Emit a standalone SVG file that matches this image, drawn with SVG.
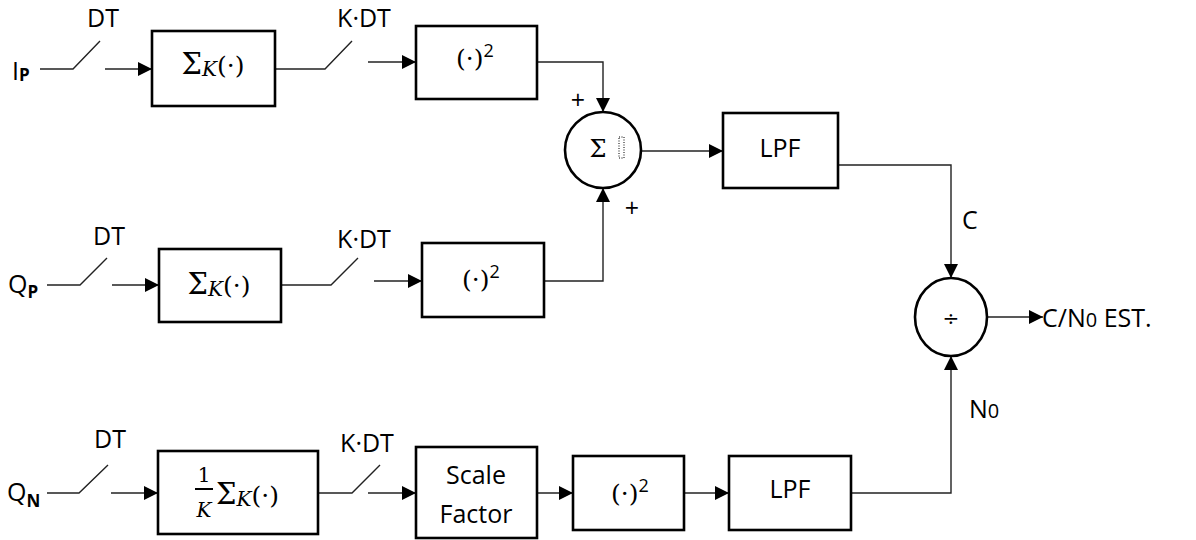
<svg xmlns="http://www.w3.org/2000/svg" width="1196" height="540" viewBox="0 0 1196 540">
<style>
.box{fill:#fff;stroke:#000;stroke-width:2.6}
.ln{fill:none;stroke:#222;stroke-width:1.4}
.lbl{font-family:"Open Sans","Liberation Sans",sans-serif;font-size:25px;fill:#000}
.math{font-family:"DejaVu Serif","Liberation Serif",serif;fill:#000}
.sub{font-family:"Open Sans","Liberation Sans",sans-serif;font-weight:bold;fill:#000}
</style>
<defs>
<marker id="arr" markerUnits="userSpaceOnUse" markerWidth="15" markerHeight="15" refX="14" refY="7" orient="auto">
<path d="M0,0 L14,7 L0,14 z" fill="#000"/>
</marker>
</defs>
<rect width="1196" height="540" fill="#fff"/>

<g id="connectors">
<path class="ln" d="M40,69 H73 L100,41"/>
<path class="ln" d="M105,69 H152" marker-end="url(#arr)"/>
<path class="ln" d="M275,69 H325 L352,41"/>
<path class="ln" d="M368,62 H416" marker-end="url(#arr)"/>
<path class="ln" d="M537,62 H603 V112" marker-end="url(#arr)"/>
<path class="ln" d="M47,285 H80 L107,258"/>
<path class="ln" d="M112,285 H159" marker-end="url(#arr)"/>
<path class="ln" d="M281,285 H331 L358,258"/>
<path class="ln" d="M374,281 H422" marker-end="url(#arr)"/>
<path class="ln" d="M544,281 H603 V188" marker-end="url(#arr)"/>
<path class="ln" d="M641,151 H723" marker-end="url(#arr)"/>
<path class="ln" d="M838,165 H951 V278" marker-end="url(#arr)"/>
<path class="ln" d="M47,493 H79 L108,465"/>
<path class="ln" d="M111,493 H158" marker-end="url(#arr)"/>
<path class="ln" d="M318,493 H352 L380,465"/>
<path class="ln" d="M368,493 H416" marker-end="url(#arr)"/>
<path class="ln" d="M537,493 H573" marker-end="url(#arr)"/>
<path class="ln" d="M684,493 H729" marker-end="url(#arr)"/>
<path class="ln" d="M851,493 H951 V356" marker-end="url(#arr)"/>
<path class="ln" d="M987,317 H1043" marker-end="url(#arr)"/>
</g>

<g id="inputs">
<text class="lbl" x="12" y="80" font-size="27">I<tspan class="sub" font-size="17" dy="1">P</tspan></text>
<text class="lbl" x="8" y="293" font-size="27">Q<tspan class="sub" font-size="17" dy="5">P</tspan></text>
<text class="lbl" x="7" y="501" font-size="27">Q<tspan class="sub" font-size="17" dy="6">N</tspan></text>
</g>

<g id="switch-labels">
<text class="lbl" x="103" y="27" text-anchor="middle">DT</text>
<text class="lbl" x="364" y="27" text-anchor="middle">K·DT</text>
<text class="lbl" x="109" y="245" text-anchor="middle">DT</text>
<text class="lbl" x="364" y="248" text-anchor="middle">K·DT</text>
<text class="lbl" x="110" y="448" text-anchor="middle">DT</text>
<text class="lbl" x="367" y="452" text-anchor="middle">K·DT</text>
</g>

<g id="sumK1">
<rect class="box" x="152" y="31" width="123" height="75"/>
<text class="math" x="213" y="74" text-anchor="middle" font-size="29">Σ<tspan font-style="italic" font-size="20" dy="2">K</tspan><tspan font-size="25" dy="-2">(·)</tspan></text>
</g>
<g id="sq1">
<rect class="box" x="416" y="26" width="121" height="73"/>
<text class="math" x="475" y="67" text-anchor="middle" font-size="25">(·)<tspan font-family="Open Sans, sans-serif" font-size="18" dy="-10">2</tspan></text>
</g>
<g id="sumK2">
<rect class="box" x="159" y="249" width="122" height="73"/>
<text class="math" x="219" y="294" text-anchor="middle" font-size="29">Σ<tspan font-style="italic" font-size="20" dy="2">K</tspan><tspan font-size="25" dy="-2">(·)</tspan></text>
</g>
<g id="sq2">
<rect class="box" x="422" y="243" width="122" height="74"/>
<text class="math" x="481" y="288" text-anchor="middle" font-size="25">(·)<tspan font-family="Open Sans, sans-serif" font-size="18" dy="-10">2</tspan></text>
</g>
<g id="sum">
<circle class="box" cx="603" cy="150" r="38"/>
<text class="math" x="598" y="157" text-anchor="middle" font-size="24">Σ</text>
<rect x="619" y="137" width="5" height="21" fill="none" stroke="#000" stroke-width="1" stroke-dasharray="1,1.5"/>
<text class="lbl" x="578" y="109" text-anchor="middle" font-size="24">+</text>
<text class="lbl" x="632" y="217" text-anchor="middle" font-size="24">+</text>
</g>
<g id="lpf1">
<rect class="box" x="723" y="113" width="115" height="75"/>
<text class="lbl" x="780" y="157" text-anchor="middle">LPF</text>
</g>
<g id="div">
<ellipse class="box" cx="951" cy="317" rx="36" ry="39"/>
<text class="math" x="951" y="325" text-anchor="middle" font-size="20">÷</text>
</g>
<text class="lbl" x="962" y="229">C</text>
<text class="lbl" x="969" y="418">N<tspan font-size="20">0</tspan></text>
<text class="lbl" x="1042" y="327">C/N<tspan font-size="20">0</tspan> EST.</text>

<g id="sumK3">
<rect class="box" x="158" y="451" width="160" height="83"/>
<text class="math" x="204" y="482" text-anchor="middle" font-size="20">1</text>
<line x1="195" y1="489" x2="213" y2="489" stroke="#000" stroke-width="2"/>
<text class="math" x="204" y="517" text-anchor="middle" font-size="20" font-style="italic">K</text>
<text class="math" x="216" y="504" font-size="29">Σ<tspan font-style="italic" font-size="20" dy="2">K</tspan><tspan font-size="25" dy="-2">(·)</tspan></text>
</g>
<g id="scale">
<rect class="box" x="416" y="447" width="121" height="91"/>
<text class="lbl" x="476" y="484" text-anchor="middle" font-size="22">Scale</text>
<text class="lbl" x="476" y="523" text-anchor="middle" font-size="22">Factor</text>
</g>
<g id="sq3">
<rect class="box" x="573" y="456" width="111" height="74"/>
<text class="math" x="630" y="502" text-anchor="middle" font-size="25">(·)<tspan font-family="Open Sans, sans-serif" font-size="18" dy="-10">2</tspan></text>
</g>
<g id="lpf2">
<rect class="box" x="729" y="456" width="122" height="74"/>
<text class="lbl" x="790" y="498" text-anchor="middle">LPF</text>
</g>
</svg>
